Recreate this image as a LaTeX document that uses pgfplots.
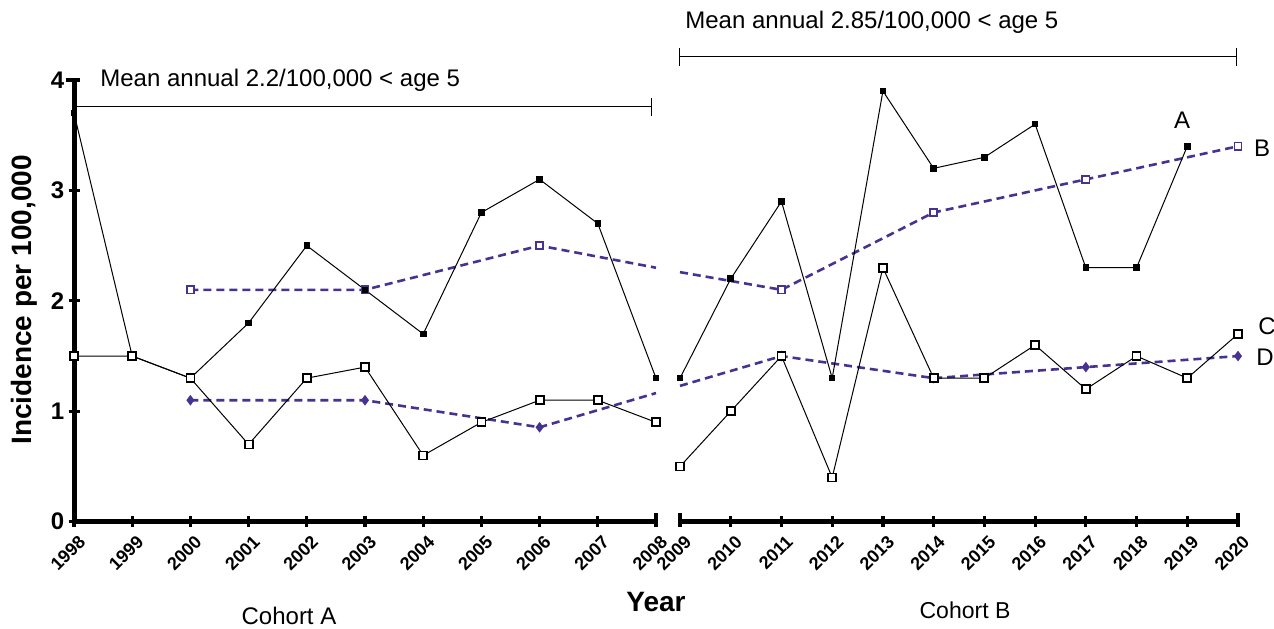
\documentclass[border=0pt]{standalone}
\usepackage{fontspec}
\setmainfont{Liberation Sans}
\usepackage{pgfplots}
\pgfplotsset{compat=1.18}
\definecolor{pblue}{RGB}{72,50,145}
% x values are years minus 1998 (left panel) and minus 2009 (right panel)
\begin{document}
\begin{tikzpicture}
\useasboundingbox (0pt,0pt) rectangle (637pt,314pt);
\pgfplotsset{
 common/.style={
  scale only axis, height=220.85pt, ymin=0, ymax=4, clip=false,
  axis line style={line width=2.5pt},
  every outer x axis line/.append style={-},
  every outer y axis line/.append style={-},
  every inner x axis line/.append style={-},
  every inner y axis line/.append style={-},
  x axis line style={-}, y axis line style={-},
  major tick style={line width=1.6pt, black},
  tick align=outside, major tick length=5.5pt,
  xticklabel shift=5pt,
  xticklabel style={font=\bfseries\fontsize{9}{10}\selectfont, rotate=45, anchor=north east, inner sep=0pt},
  every x tick label/.append style={xshift=2.5pt},
  yticklabel style={font=\bfseries\fontsize{12}{14}\selectfont, inner sep=2pt},
  /pgf/number format/assume math mode=true,
 },
 serA/.style={black, line width=0.5pt, mark=square*, mark size=1.4pt, mark options={solid, fill=black}},
 serC/.style={black, line width=0.5pt, mark=square*, mark size=2pt, mark options={solid, fill=white, draw=black, line width=0.9pt}},
 serB/.style={pblue, line width=1.3pt, dash pattern=on 4pt off 2.5pt, mark=square*, mark size=1.8pt, mark options={solid, fill=white, draw=pblue, line width=0.8pt}},
 serD/.style={pblue, line width=1.3pt, dash pattern=on 4pt off 2.5pt, mark=diamond*, mark size=1.6pt, mark options={solid, fill=pblue}},
}
% ---------- Cohort A panel ----------
\begin{axis}[common, at={(37pt,53.15pt)}, anchor=south west, width=291pt,
  xmin=0, xmax=10,
  axis x line=bottom, axis y line=left,
  x axis line style={-}, y axis line style={-},
  xtick={0,1,2,3,4,5,6,7,8,9,10},
  xticklabels={1998,1999,2000,2001,2002,2003,2004,2005,2006,2007,2008},
  ytick={0,1,2,3,4}]
\addplot[serB, mark indices={1,2,3}] coordinates {(2,2.1) (5,2.1) (8,2.5) (10,2.3)};
\addplot[serD, mark indices={1,2,3}] coordinates {(2,1.1) (5,1.1) (8,0.855) (10,1.165)};
\addplot[serA] coordinates {(0,3.7) (1,1.5) (2,1.3) (3,1.8) (4,2.5) (5,2.1) (6,1.7) (7,2.8) (8,3.1) (9,2.7) (10,1.3)};
\addplot[serC] coordinates {(0,1.5) (1,1.5) (2,1.3) (3,0.7) (4,1.3) (5,1.4) (6,0.6) (7,0.9) (8,1.1) (9,1.1) (10,0.9)};
\draw[line width=1.6pt] (axis cs:10,0) -- ++(0pt,4.5pt);
\draw[line width=1.6pt] (axis cs:0,4) -- ++(-4pt,0pt);
\end{axis}
% ---------- Cohort B panel ----------
\begin{axis}[common, at={(340pt,53.15pt)}, anchor=south west, width=279pt,
  xmin=0, xmax=11,
  axis x line=bottom, axis y line=none,
  x axis line style={-},
  xtick={0,1,2,3,4,5,6,7,8,9,10,11},
  xticklabels={2009,2010,2011,2012,2013,2014,2015,2016,2017,2018,2019,2020}]
\addplot[serB, mark indices={2,3,4,5}] coordinates {(0,2.26) (2,2.1) (5,2.8) (8,3.1) (11,3.4)};
\addplot[serD, mark indices={2,3,4,5}] coordinates {(0,1.23) (2,1.5) (5,1.3) (8,1.4) (11,1.5)};
\addplot[serA] coordinates {(0,1.3) (1,2.2) (2,2.9) (3,1.3) (4,3.9) (5,3.2) (6,3.3) (7,3.6) (8,2.3) (9,2.3) (10,3.4)};
\addplot[serC] coordinates {(0,0.5) (1,1.0) (2,1.5) (3,0.4) (4,2.3) (5,1.3) (6,1.3) (7,1.6) (8,1.2) (9,1.5) (10,1.3) (11,1.7)};
\draw[line width=1.6pt] (axis cs:0,0) -- ++(0pt,4.5pt);
\draw[line width=1.6pt] (axis cs:11,0) -- ++(0pt,4.5pt);
\end{axis}
% ---------- annotations ----------
\draw[line width=0.5pt] (37pt,260.5pt) -- (325.5pt,260.5pt);
\draw[line width=0.5pt] (325.5pt,256pt) -- (325.5pt,265pt);
\draw[line width=0.5pt] (339.5pt,285.5pt) -- (618pt,285.5pt);
\draw[line width=0.5pt] (339.5pt,281pt) -- (339.5pt,290pt);
\draw[line width=0.5pt] (618pt,281pt) -- (618pt,290pt);
\node[anchor=west, inner sep=0pt, font=\fontsize{12}{14}\selectfont] at (50pt,274pt) {Mean annual 2.2/100,000 < age 5};
\node[anchor=west, inner sep=0pt, font=\fontsize{12}{14}\selectfont] at (342.5pt,303pt) {Mean annual 2.85/100,000 < age 5};
\node[font=\fontsize{12}{14}\selectfont] at (591pt,254pt) {A};
\node[font=\fontsize{12}{14}\selectfont] at (631pt,240pt) {B};
\node[font=\fontsize{12}{14}\selectfont] at (633.5pt,151pt) {C};
\node[font=\fontsize{12}{14}\selectfont] at (632.5pt,135.5pt) {D};
\node[rotate=90, font=\bfseries\fontsize{14}{16}\selectfont] at (12pt,164pt) {Incidence per 100,000};
\node[font=\bfseries\fontsize{14}{16}\selectfont] at (328pt,13pt) {Year};
\node[font=\fontsize{12}{14}\selectfont] at (144.5pt,6pt) {Cohort A};
\node[font=\fontsize{11.5}{14}\selectfont] at (482.5pt,9pt) {Cohort B};
\end{tikzpicture}
\end{document}
